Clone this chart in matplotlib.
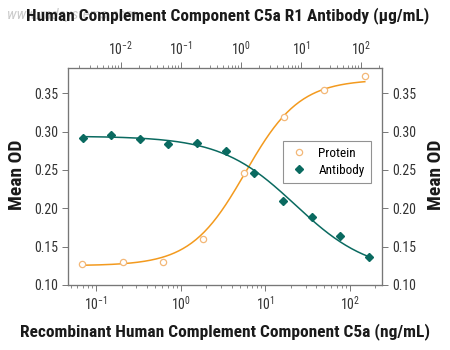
import numpy as np
import matplotlib.pyplot as plt
from matplotlib import font_manager as fm
from matplotlib.ticker import LogLocator, NullFormatter

# pick a narrow font if one is installed
names = {f.name for f in fm.fontManager.ttflist}
narrow = ['Roboto Condensed', 'PT Sans Narrow', 'Fira Sans Condensed', 'Open Sans Condensed',
          'Archivo Narrow', 'IBM Plex Sans Condensed', 'Liberation Sans Narrow',
          'Encode Sans Condensed', 'Asap Condensed', 'Sofia Sans Condensed',
          'Barlow Semi Condensed', 'Ubuntu Condensed', 'Pragati Narrow']
fam = next((n for n in narrow if n in names), 'DejaVu Sans')

plt.rcParams['font.family'] = [fam, 'DejaVu Sans']
plt.rcParams['mathtext.fontset'] = 'custom'
plt.rcParams['mathtext.rm'] = fam
plt.rcParams['mathtext.it'] = fam

# protein (ng/mL, bottom axis), 3-fold dilutions
protein_conc = [0.0686, 0.206, 0.617, 1.85, 5.56, 16.7, 50.0, 150.0]
protein_od = [0.127, 0.130, 0.130, 0.160, 0.246, 0.319, 0.354, 0.372]

# antibody (ug/mL, top axis)
antibody_conc = [0.00229, 0.00686, 0.0206, 0.0617, 0.185, 0.556, 1.67, 5.0, 15.0, 45.0, 135.0]
antibody_od = [0.2915, 0.2954, 0.290, 0.284, 0.285, 0.274, 0.2457, 0.2096, 0.1886, 0.1637, 0.137]

# 4PL fit parameters (bottom, top, ec50, hill)
protein_fit = (0.125, 0.368, 5.8, 1.35)
antibody_fit = (0.294, 0.115, 8.0, 0.7)

orange = '#F39A1E'
orange_pt = '#F3B878'
teal = '#0A6A60'


def fourpl(x, a, d, c, b):
    return d + (a - d) / (1 + (x / c) ** b)


fig = plt.figure(figsize=(4.5, 3.5), dpi=100)

# faint watermark behind the top title
fig.text(0.015, 0.958, 'www.rndsystems.com', fontsize=11, style='italic', color='#cccccc',
         va='center', zorder=0)

ax = fig.add_axes([0.151, 0.186, 0.698, 0.620])
ax.set_xscale('log')
ax.set_xlim(10 ** -1.333, 10 ** 2.38)
ax.set_ylim(0.10, 0.383)

xs = np.logspace(np.log10(protein_conc[0]), np.log10(protein_conc[-1]), 200)
ax.plot(xs, fourpl(xs, *protein_fit), color=orange, lw=1.1, zorder=2)
ax.plot(protein_conc, protein_od, 'o', mfc='white', mec=orange_pt, ms=4.5, mew=0.9,
        zorder=3, label='Protein')

ax2 = ax.twiny()
ax2.set_xscale('log')
ax2.set_xlim(10 ** -2.883, 10 ** 2.35)
xa = np.logspace(np.log10(antibody_conc[0]), np.log10(antibody_conc[-1]), 200)
ax2.plot(xa, fourpl(xa, *antibody_fit), color=teal, lw=1.1, zorder=2)
ax2.plot(antibody_conc, antibody_od, 'D', color=teal, ms=4.5, zorder=3, label='Antibody')

# right axis copy of y ticks
ax3 = ax.twinx()
ax3.set_ylim(ax.get_ylim())

yt = [0.10, 0.15, 0.20, 0.25, 0.30, 0.35]
for a in (ax, ax3):
    a.set_yticks(yt)
    a.set_yticklabels([f'{v:.2f}' for v in yt])

ax.set_xticks([0.1, 1, 10, 100])
ax.set_xticklabels([r'$10^{-1}$', r'$10^{0}$', r'$10^{1}$', r'$10^{2}$'])
ax.xaxis.set_minor_locator(LogLocator(base=10, subs=np.arange(2, 10)))
ax.xaxis.set_minor_formatter(NullFormatter())
ax2.set_xticks([0.01, 0.1, 1, 10, 100])
ax2.set_xticklabels([r'$10^{-2}$', r'$10^{-1}$', r'$10^{0}$', r'$10^{1}$', r'$10^{2}$'])
ax2.xaxis.set_minor_locator(LogLocator(base=10, subs=np.arange(2, 10)))
ax2.xaxis.set_minor_formatter(NullFormatter())

spine_c = '#777777'
for a in (ax, ax2, ax3):
    for s in a.spines.values():
        s.set_color(spine_c)
        s.set_linewidth(0.8)
    a.tick_params(which='major', direction='out', length=4, width=0.7, color=spine_c,
                  labelsize=10, labelcolor='#333333', pad=3)
    a.tick_params(which='minor', direction='out', length=2.5, width=0.6, color=spine_c)

# axis titles placed like the reference
t_bot = fig.text(0.5, 0.052, 'Recombinant Human Complement Component C5a (ng/mL)',
                 fontsize=14, fontweight='bold', ha='center', va='center', color='#1a1a1a')
t_top = fig.text(0.505, 0.955, 'Human Complement Component C5a R1 Antibody (\u03bcg/mL)',
                 fontsize=14, fontweight='bold', ha='center', va='center', color='#1a1a1a')
t_l = fig.text(0.038, 0.50, 'Mean OD', fontsize=14, fontweight='bold', rotation=90,
               ha='center', va='center', color='#1a1a1a')
t_r = fig.text(0.968, 0.50, 'Mean OD', fontsize=14, fontweight='bold', rotation=90,
               ha='center', va='center', color='#1a1a1a')

# shrink titles to the widths seen in the reference
fig.canvas.draw()
r = fig.canvas.get_renderer()
for t, w in ((t_bot, 410), (t_top, 402)):
    cur = t.get_window_extent(r).width
    if cur > w:
        t.set_fontsize(14 * w / cur)
for t in (t_l, t_r):
    cur = t.get_window_extent(r).height
    if cur > 72:
        t.set_fontsize(14 * 72 / cur)

h1, l1 = ax.get_legend_handles_labels()
h2, l2 = ax2.get_legend_handles_labels()
leg = ax3.legend(h1 + h2, l1 + l2, loc='upper left', bbox_to_anchor=(0.665, 0.695),
                 fontsize=9.5, frameon=True, fancybox=False, handletextpad=0.8,
                 borderpad=0.45, labelspacing=0.3, handlelength=1.4)
leg.get_frame().set_edgecolor('#777777')
leg.get_frame().set_linewidth(0.8)

fig.savefig('out.png', dpi=100)
